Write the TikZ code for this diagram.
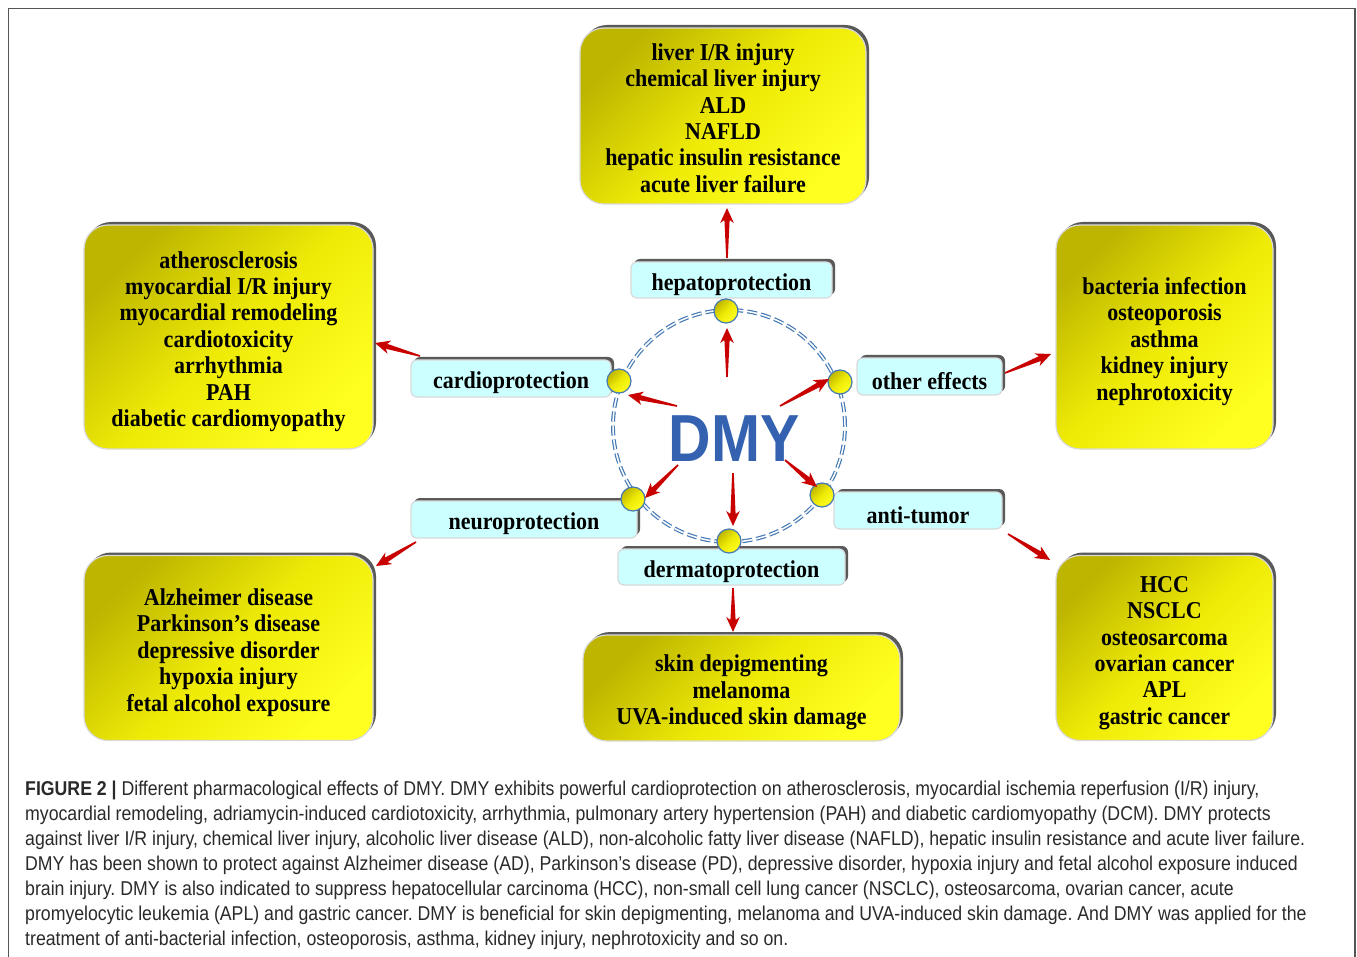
\documentclass[tikz,border=0pt]{standalone}
\usepackage{fontspec}
\setmainfont{Liberation Serif}
\newfontfamily\capfont{Liberation Sans}
\usetikzlibrary{calc,shadows}
\definecolor{ydark}{HTML}{BDB500}
\definecolor{ymid}{HTML}{EEEA06}
\definecolor{ybright}{HTML}{FFFF20}
\definecolor{cyanbox}{HTML}{CCFFFF}
\definecolor{ringblue}{HTML}{4479B4}
\definecolor{arrowred}{HTML}{C80000}
\definecolor{dmyblue}{HTML}{3462B0}
\definecolor{capgray}{HTML}{2A2A2A}
\definecolor{framegray}{HTML}{555555}
\newcommand\ylines[1]{\raisebox{-5pt}[\height][\depth]{\scalebox{1}[1.1]{\begin{tabular}{@{}c@{}}#1\end{tabular}}}}
\newcommand\ctext[1]{\raisebox{-4.5pt}[\height][\depth]{\scalebox{1}[1.1]{#1}}}
\newcommand\taparrow[2]{%
  \path let \p1=($(#2)-(#1)$) in \pgfextra{%
    \pgfmathsetmacro\tapang{atan2(\y1,\x1)}%
    \pgfmathsetmacro\taplen{veclen(\x1,\y1)}%
    \global\let\tapangG\tapang \global\let\taplenG\taplen};%
  \fill[arrowred, shift={(#1)}, rotate=\tapangG] (0,-0.8) -- (\taplenG-12,-2.6) -- (\taplenG-15,-6.8) -- (\taplenG,0) -- (\taplenG-15,6.8) -- (\taplenG-12,2.6) -- (0,0.8) -- cycle;}
\tikzset{
  boxshadow/.style={general shadow={shadow xshift=3pt, shadow yshift=3pt, fill=gray!70!black}},
  ybox/.style={rounded corners=24pt, draw=gray!30, line width=1.2pt, top color=ydark, bottom color=ybright, middle color=ymid, shading angle=45, boxshadow, align=center, inner sep=0pt, font=\bfseries\fontsize{22}{24}\selectfont},
  cbox/.style={rounded corners=6pt, draw=gray!30, line width=1.2pt, fill=cyanbox, boxshadow, inner sep=0pt, font=\bfseries\fontsize{22}{24}\selectfont},
  ball/.style={circle, minimum size=24pt, inner sep=0pt, draw=ringblue, line width=1.2pt, top color=ydark, bottom color=ybright, middle color=ymid, shading angle=45},
  capline/.style={anchor=base west, inner sep=0pt, text=capgray, font=\capfont\fontsize{20}{24}\selectfont},
}
\begin{document}
\frenchspacing
\begin{tikzpicture}[x=1pt,y=-1pt]
\useasboundingbox (0,0) rectangle (1357,957);
\fill[white] (0,0) rectangle (1357,957);
\draw[framegray, line width=1.5pt] (8.5,960) -- (8.5,8.5) -- (1355,8.5) -- (1355,960);

% ring
\coordinate (ringc) at (729,426);
\draw[ringblue, line width=1.2pt, double=white, double distance=1.5pt, dash pattern=on 10pt off 4pt] (ringc) circle[radius=116pt];

% yellow boxes
\node[ybox, minimum width=286pt, minimum height=176pt] (liver) at (723,116)
  {\ylines{liver I/R injury\\chemical liver injury\\ALD\\NAFLD\\hepatic insulin resistance\\acute liver failure}};
\node[ybox, minimum width=289pt, minimum height=224pt] (heart) at (228.5,337)
  {\ylines{atherosclerosis\\myocardial I/R injury\\myocardial remodeling\\cardiotoxicity\\arrhythmia\\PAH\\diabetic cardiomyopathy}};
\node[ybox, minimum width=217pt, minimum height=224pt] (others) at (1164.5,337)
  {\ylines{bacteria infection\\osteoporosis\\asthma\\kidney injury\\nephrotoxicity}};
\node[ybox, minimum width=289pt, minimum height=185pt] (brain) at (228.5,648)
  {\ylines{Alzheimer disease\\Parkinson’s disease\\depressive disorder\\hypoxia injury\\fetal alcohol exposure}};
\node[ybox, minimum width=317pt, minimum height=106pt] (skin) at (741.5,688)
  {\ylines{skin depigmenting\\melanoma\\UVA-induced skin damage}};
\node[ybox, minimum width=217pt, minimum height=185pt] (tumor) at (1164.5,648)
  {\ylines{HCC\\NSCLC\\osteosarcoma\\ovarian cancer\\APL\\gastric cancer}};

% cyan boxes
\node[cbox, minimum width=201pt, minimum height=36pt] (hep) at (731.5,280) {\ctext{hepatoprotection}};
\node[cbox, minimum width=200pt, minimum height=37pt] (cardio) at (511,378.5) {\ctext{cardioprotection}};
\node[cbox, minimum width=145pt, minimum height=37pt] (other) at (929.5,376.5) {\ctext{other effects}};
\node[cbox, minimum width=226pt, minimum height=37pt] (neuro) at (524,519.5) {\ctext{neuroprotection}};
\node[cbox, minimum width=168pt, minimum height=37pt] (anti) at (918,510.5) {\ctext{anti-tumor}};
\node[cbox, minimum width=227pt, minimum height=36pt] (derm) at (731.5,567) {\ctext{dermatoprotection}};

% balls
\node[ball] (bt) at (726,311) {};
\node[ball] (bc) at (619,381) {};
\node[ball] (bo) at (840,382) {};
\node[ball] (bn) at (633,499) {};
\node[ball] (ba) at (822,495) {};
\node[ball] (bd) at (729,541) {};

% DMY
\node[inner sep=0pt, text=dmyblue, font=\capfont\bfseries\fontsize{64}{64}\selectfont] (dmy) at (734,439) {\scalebox{0.92}[1.04]{DMY}};

% arrow end points
\coordinate (t1) at (727,377); \coordinate (h1) at (727,328);
\coordinate (t2) at (677,406); \coordinate (h2) at (628,395);
\coordinate (t3) at (780,406); \coordinate (h3) at (829,379);
\coordinate (t4) at (678,465); \coordinate (h4) at (645,498);
\coordinate (t5) at (733,473); \coordinate (h5) at (733,526);
\coordinate (t6) at (785,460); \coordinate (h6) at (817,487);
\coordinate (e1t) at (727,258); \coordinate (e1h) at (727,208);
\coordinate (e2t) at (420,356); \coordinate (e2h) at (375,343);
\coordinate (e3t) at (1005,373); \coordinate (e3h) at (1051,354);
\coordinate (e4t) at (416,542); \coordinate (e4h) at (376,566);
\coordinate (e5t) at (733,588); \coordinate (e5h) at (733,632);
\coordinate (e6t) at (1008,534); \coordinate (e6h) at (1050,560);

\taparrow{t1}{h1}
\taparrow{t2}{h2}
\taparrow{t3}{h3}
\taparrow{t4}{h4}
\taparrow{t5}{h5}
\taparrow{t6}{h6}
\taparrow{e1t}{e1h}
\taparrow{e2t}{e2h}
\taparrow{e3t}{e3h}
\taparrow{e4t}{e4h}
\taparrow{e5t}{e5h}
\taparrow{e6t}{e6h}

% caption
\node[capline] (cap1) at (25,795.5) {\scalebox{0.885}[1]{\textbf{FIGURE 2 |} Different pharmacological effects of DMY. DMY exhibits powerful cardioprotection on atherosclerosis, myocardial ischemia reperfusion (I/R) injury,}};
\node[capline] (cap2) at (25,820.5) {\scalebox{0.885}[1]{myocardial remodeling, adriamycin-induced cardiotoxicity, arrhythmia, pulmonary artery hypertension (PAH) and diabetic cardiomyopathy (DCM). DMY protects}};
\node[capline] (cap3) at (25,845.5) {\scalebox{0.885}[1]{against liver I/R injury, chemical liver injury, alcoholic liver disease (ALD), non-alcoholic fatty liver disease (NAFLD), hepatic insulin resistance and acute liver failure.}};
\node[capline] (cap4) at (25,870.5) {\scalebox{0.885}[1]{DMY has been shown to protect against Alzheimer disease (AD), Parkinson’s disease (PD), depressive disorder, hypoxia injury and fetal alcohol exposure induced}};
\node[capline] (cap5) at (25,895.5) {\scalebox{0.885}[1]{brain injury. DMY is also indicated to suppress hepatocellular carcinoma (HCC), non-small cell lung cancer (NSCLC), osteosarcoma, ovarian cancer, acute}};
\node[capline] (cap6) at (25,920.5) {\scalebox{0.885}[1]{promyelocytic leukemia (APL) and gastric cancer. DMY is beneficial for skin depigmenting, melanoma and UVA-induced skin damage. And DMY was applied for the}};
\node[capline] (cap7) at (25,945.5) {\scalebox{0.885}[1]{treatment of anti-bacterial infection, osteoporosis, asthma, kidney injury, nephrotoxicity and so on.}};
\end{tikzpicture}
\end{document}
